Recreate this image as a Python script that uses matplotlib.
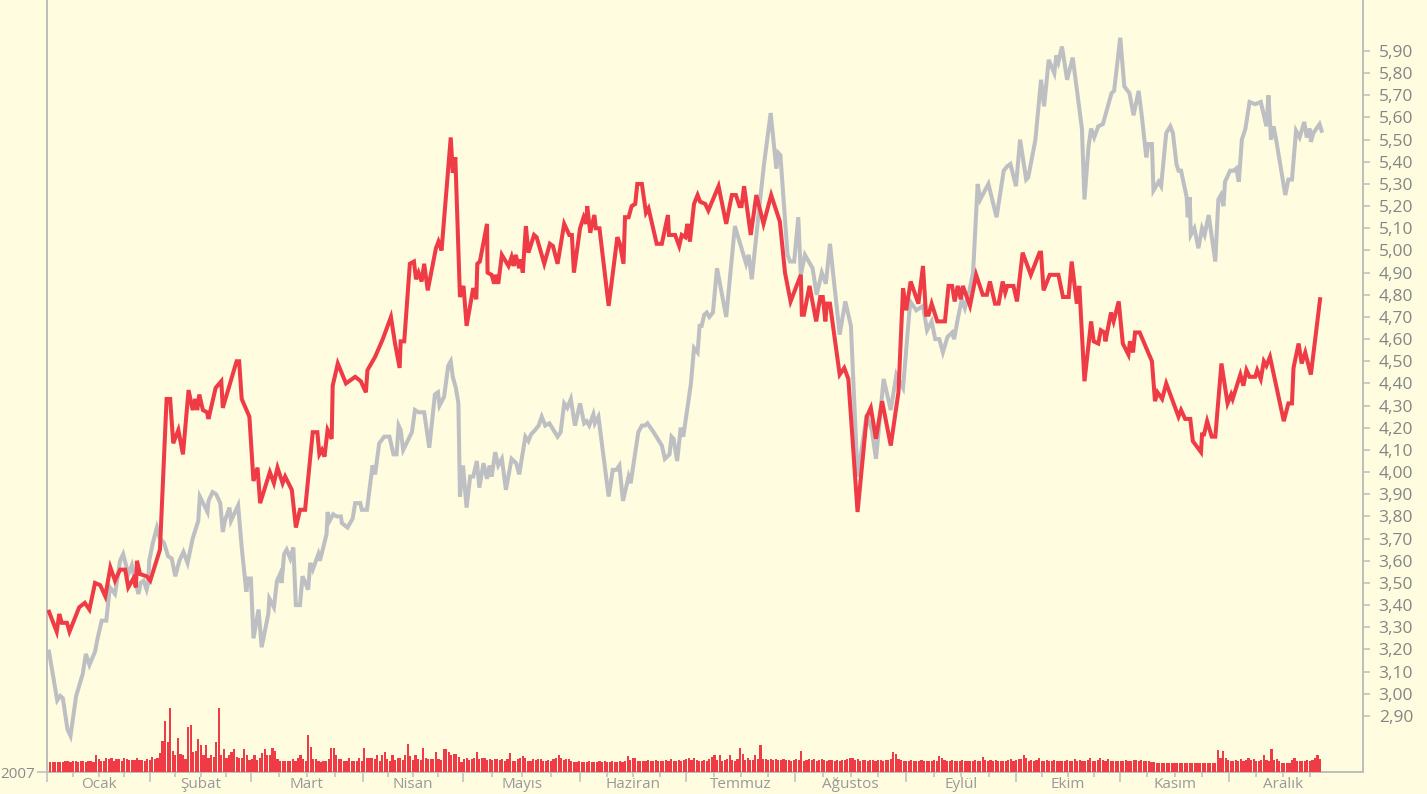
import numpy as np
import matplotlib.pyplot as plt
from matplotlib import transforms

# ---- data (x = trading day of 2007, y = price) ----
red_day = [0, 1.5, 2, 2.5, 3.5, 4, 5.9, 7, 7.9, 9, 10, 11, 12, 12.9, 13.9, 14.9, 15.5, 16.5, 17, 17.2,
           17.8, 19.1, 19.8, 21.7, 23, 23.7, 24.3, 25.3, 26.2, 27.3, 28.1, 28.6, 29, 29.4, 30.1, 30.9,
           31.2, 31.8, 32.6, 33.7, 34, 36.7, 37.2, 37.7, 39.2, 40, 40.8, 41.3, 43.2, 44, 44.7, 45.7,
           46.2, 47.5, 48.3, 49.1, 50.1, 51.6, 52.5, 52.9, 53.4, 53.9, 54.5, 55.3, 55.5, 56.5, 58.1,
           59.9, 61, 62, 62.3, 63.8, 65.3, 66.9, 67.7, 68.6, 68.8, 69.5, 70.6, 71.4, 71.8, 72.3, 72.9,
           73.4, 74.1, 75.7, 76.2, 76.8, 78.6, 79, 79.5, 80.4, 81.1, 81.7, 83, 83.6, 83.8, 84.3, 85.7,
           85.8, 86.6, 87.1, 87.4, 87.9, 88.6, 89.9, 90.5, 90.9, 91.3, 92, 92.3, 92.7, 93.3, 93.8, 94.9,
           95.4, 96.9, 98, 98.6, 99.5, 100.8, 101.8, 102.3, 102.7, 103.9, 104.6, 105.1, 105.3, 105.9,
           106.7, 107, 107.7, 109.5, 111.2, 111.7, 112.4, 112.7, 113.4, 114, 114.7, 115.1, 116, 116.8,
           117.3, 118.9, 119.9, 121.1, 121.3, 122.5, 123.3, 123.8, 124.5, 124.9, 125.4, 126.2, 126.9,
           127.4, 128.4, 129, 131, 132.5, 133.6, 134.4, 135.1, 135.5, 136, 137.3, 138.4, 139.8, 141.3,
           143, 144, 145.1, 147.1, 147.3, 147.7, 148.8, 150.1, 150.9, 151.4, 151.9, 152.2, 152.8, 154.7,
           155.6, 156.4, 158.2, 160, 160.8, 161.8, 163, 164.7, 166.2, 167.1, 167.7, 168.6, 170.1, 171,
           171.6, 172.1, 172.7, 173.8, 175.3, 176, 176.7, 177.2, 177.8, 178.4, 178.8, 180.2, 181.4,
           182.7, 183.5, 184.1, 185.1, 185.8, 186.6, 187.1, 187.5, 188.7, 189.4, 190.5, 192.1, 193.8,
           194.1, 194.6, 195.8, 197.5, 198.4, 199.5, 200.1, 201.1, 201.6, 202.6, 203.9, 204.4, 205.3,
           205.8, 206.5, 206.7, 207.8, 208.3, 209.3, 210.1, 211.2, 211.5, 212.1, 212.5, 213.4, 215.8,
           216.4, 216.9, 217.8, 218.6, 221, 221.5, 222.3, 223.3, 223.8, 225.4, 225.6, 226, 226.6,
           227.5, 228.2, 229.4, 230.6, 231.3, 231.6, 233.1, 233.7, 234.3, 234.9, 236, 236.4, 237.1,
           237.7, 238.2, 238.9, 241.6, 242.5, 243.2, 243.5, 244.5, 245.1, 245.8, 246.9, 248.7]
red_val = [3.37, 3.28, 3.36, 3.32, 3.32, 3.28, 3.39, 3.41, 3.38, 3.50, 3.49, 3.44, 3.57, 3.51, 3.56, 3.56, 3.48, 3.52, 3.48, 3.60,
           3.54, 3.53, 3.51, 3.65, 4.33, 4.33, 4.13, 4.19, 4.08, 4.37, 4.28, 4.33, 4.28, 4.35, 4.28, 4.27,
           4.24, 4.30, 4.38, 4.41, 4.29, 4.50, 4.50, 4.33, 4.25, 3.96, 4.02, 3.86, 4.00, 3.95, 4.02, 3.95,
           3.98, 3.92, 3.75, 3.83, 3.83, 4.18, 4.18, 4.08, 4.10, 4.07, 4.19, 4.15, 4.39, 4.49, 4.40,
           4.43, 4.41, 4.36, 4.46, 4.52, 4.60, 4.70, 4.58, 4.47, 4.59, 4.59, 4.94, 4.95, 4.87, 4.90, 4.86,
           4.94, 4.82, 5.01, 5.04, 5.00, 5.51, 5.35, 5.42, 4.79, 4.84, 4.66, 4.83, 4.78, 4.94, 4.95, 5.12,
           4.90, 4.89, 4.85, 4.89, 4.85, 4.98, 4.93, 4.97, 4.93, 4.98, 4.92, 4.96, 4.90, 5.11, 4.99, 5.07,
           5.06, 4.94, 5.03, 5.02, 4.94, 5.12, 5.07, 5.07, 4.90, 5.10, 5.15, 5.12, 5.20, 5.08,
           5.16, 5.10, 5.10, 4.75, 5.06, 5.03, 4.94, 5.15, 5.15, 5.20, 5.21, 5.30, 5.30, 5.17,
           5.19, 5.03, 5.03, 5.16, 5.07, 5.07, 5.02, 5.07, 5.06, 5.12, 5.04, 5.21, 5.25,
           5.22, 5.21, 5.18, 5.29, 5.12, 5.25, 5.25, 5.20, 5.20, 5.29, 5.07, 5.25, 5.12, 5.25,
           5.13, 4.90, 4.77, 4.89, 4.71, 4.71, 4.84, 4.68, 4.79, 4.79, 4.68, 4.76, 4.76, 4.44,
           4.47, 4.42, 3.82, 4.25, 4.29, 4.15, 4.32, 4.12, 4.36, 4.83, 4.73, 4.86, 4.76, 4.93,
           4.71, 4.71, 4.76, 4.68, 4.68, 4.84, 4.84, 4.77, 4.84, 4.78, 4.84, 4.75, 4.89,
           4.80, 4.80, 4.86, 4.76, 4.76, 4.86, 4.81, 4.84, 4.84, 4.77, 4.99, 4.89, 4.99,
           4.99, 4.82, 4.89, 4.89, 4.79, 4.79, 4.95, 4.76, 4.84, 4.41, 4.68, 4.59, 4.58,
           4.64, 4.63, 4.59, 4.72, 4.68, 4.77, 4.58, 4.53, 4.59, 4.54, 4.63, 4.63, 4.50,
           4.32, 4.36, 4.33, 4.40, 4.25, 4.28, 4.24, 4.24, 4.14, 4.09, 4.17, 4.17, 4.23,
           4.16, 4.16, 4.49, 4.31, 4.35, 4.33, 4.44, 4.39, 4.46, 4.43, 4.43, 4.46, 4.42,
           4.50, 4.48, 4.52, 4.23, 4.31, 4.31, 4.47, 4.58, 4.49, 4.54, 4.44, 4.78]

gray_day = [0, 0.5, 1.6, 2.2, 2.7, 3.6, 4.2, 5.3, 6.6, 7.2, 7.9, 9, 9.5, 10.3, 11.2, 11.9, 12.9, 13.9, 14.5,
            15.5, 16.2, 16.8, 17.5, 17.9, 18.5, 19.1, 19.4, 19.6, 20.3, 21.1, 21.7, 22.5, 23.3, 24, 24.7,
            25.5, 26.3, 27.1, 28.1, 29.2, 29.5, 31, 31.2, 32, 32.7, 33.5, 34, 34.4, 35.3, 35.6, 37, 37.7,
            38.6, 39, 39.5, 40, 41, 41.6, 42.9, 43.1, 44, 44.6, 45.2, 45.5, 46, 46.5, 47.2, 47.8, 48.3,
            49.1, 49.6, 50.7, 51.1, 51.6, 52.7, 53, 54.3, 54.5, 54.9, 55.6, 56.3, 57.1, 57.3, 58.4, 59.4,
            59.9, 60.9, 61.2, 62.2, 63.3, 63.8, 64.6, 65.6, 66.6, 67.4, 68, 68.4, 68.8, 69.3, 71, 71.6,
            72.3, 73.4, 74.4, 75.5, 76.1, 76.4, 77.3, 78.1, 78.6, 79, 79.6, 80.1, 80.4, 81, 81.7, 82.4, 83,
            83.7, 84.2, 85, 85.7, 86.2, 86.6, 87.3, 87.9, 88.6, 89.4, 90.5, 91.4, 92, 93.2, 93.8, 94.3,
            95.1, 95.8, 96.4, 97.1, 97.9, 98.7, 99.5, 100.1, 100.8, 101.4, 102.1, 102.9, 103.9, 104.7,
            105.2, 105.7, 106.5, 106.8, 107.5, 109.5, 110.3, 111, 111.6, 112.3, 113.4, 113.8, 115.3, 116,
            116.6, 117.1, 118.3, 119.9, 120.5, 121.4, 121.8, 122.2, 122.9, 123.6, 124.1, 125.6, 126.2,
            126.9, 127.3, 127.7, 128.2, 128.7, 129.2, 129.9, 130.7, 132.5, 134.2, 136.4, 136.9, 137.5,
            139, 139.9, 141.2, 142.3, 142.7, 143.1, 144.5, 145, 145.8, 146.6, 147.1, 147.9, 149.4, 150.2,
            151.2, 152, 152.8, 154.7, 155.8, 156.9, 158.2, 160, 161, 161.8, 163.3, 164.7, 165.8, 167.1,
            168.5, 169.7, 171, 171.8, 172.7, 173.4, 174.2, 174.9, 175.8, 176.7, 177.1, 177.8, 178.6,
            179.2, 180.1, 180.8, 181.7, 182.2, 183.8, 185.4, 186.8, 187.5, 188.1, 189.2, 190, 191.2,
            191.6, 193, 194.1, 194.7, 195.6, 196.7, 197.1, 197.5, 198.2, 199.2, 200.3, 202.1, 202.6,
            203.4, 203.9, 204.5, 205.3, 206.2, 207.9, 208.4, 209.6, 210.4, 211.4, 212.2, 213.2, 213.8,
            214.7, 215.1, 215.8, 216.1, 217.1, 217.6, 218.6, 219.4, 219.9, 220.6, 221, 221.5, 222.6,
            222.8, 223.2, 223.4, 224.1, 224.9, 225.6, 226.1, 226.9, 228.2, 228.8, 229.3, 229.8, 230.1,
            231.1, 231.8, 232.3, 232.8, 233.4, 234.1, 234.9, 236, 237.1, 238.2, 238.6, 239.1, 239.6,
            240.1, 241.9, 242.5, 243.2, 244, 244.7, 245.6, 246.1, 246.7, 246.9, 247.4, 248.6, 249]
gray_val = [3.19, 3.12, 2.97, 2.99, 2.98, 2.84, 2.81, 2.99, 3.09, 3.18, 3.13, 3.19, 3.25, 3.33, 3.33, 3.48, 3.45, 3.60, 3.63,
            3.54, 3.58, 3.51, 3.45, 3.50, 3.51, 3.47, 3.50, 3.60, 3.68, 3.75, 3.70, 3.68, 3.62, 3.61, 3.53,
            3.60, 3.64, 3.59, 3.70, 3.78, 3.89, 3.82, 3.87, 3.91, 3.90, 3.86, 3.73, 3.78, 3.84, 3.78, 3.85, 3.66,
            3.46, 3.52, 3.52, 3.25, 3.38, 3.21, 3.36, 3.43, 3.39, 3.51, 3.54, 3.50, 3.63, 3.65, 3.61, 3.66, 3.40,
            3.40, 3.53, 3.47, 3.59, 3.56, 3.63, 3.60, 3.72, 3.82, 3.78, 3.81, 3.80, 3.80, 3.77, 3.75, 3.79,
            3.86, 3.86, 3.83, 3.83, 4.03, 3.99, 4.13, 4.16, 4.16, 4.08, 4.08, 4.21, 4.19, 4.10, 4.18, 4.28,
            4.27, 4.27, 4.11, 4.35, 4.36, 4.30, 4.34, 4.48, 4.50, 4.43, 4.38, 4.31, 3.89, 4.03, 3.84, 3.98, 3.98,
            4.05, 3.93, 4.04, 3.97, 4.03, 3.98, 4.09, 4.03, 4.06, 3.92, 4.06, 4.04, 3.99, 4.16, 4.14, 4.17,
            4.19, 4.21, 4.25, 4.21, 4.22, 4.19, 4.16, 4.18, 4.31, 4.29, 4.33, 4.21, 4.31, 4.22,
            4.23, 4.21, 4.26, 4.22, 4.25, 3.89, 4.01, 4.01, 4.03, 3.87, 3.98, 3.95, 4.18, 4.21,
            4.21, 4.22, 4.18, 4.12, 4.06, 4.08, 4.16, 4.15, 4.05, 4.20, 4.16, 4.40, 4.56,
            4.54, 4.66, 4.66, 4.71, 4.72, 4.70, 4.72, 4.92, 4.70, 5.11, 4.94, 4.98, 4.87,
            5.20, 5.39, 5.62, 5.37, 5.44, 5.43, 4.98, 4.95, 4.95, 5.15, 4.89, 4.98, 4.92, 4.80,
            4.90, 4.85, 5.03, 4.62, 4.77, 4.66, 3.98, 4.26, 4.19, 4.06, 4.42, 4.28, 4.44, 4.38,
            4.77, 4.73, 4.75, 4.64, 4.68, 4.60, 4.60, 4.54, 4.61, 4.63, 4.60, 4.69, 4.78,
            4.74, 4.82, 4.90, 5.30, 5.23, 5.30, 5.15, 5.36, 5.38, 5.39, 5.29, 5.50, 5.32,
            5.33, 5.50, 5.77, 5.65, 5.86, 5.80, 5.88, 5.85, 5.92, 5.77, 5.87, 5.55, 5.23,
            5.47, 5.55, 5.51, 5.56, 5.57, 5.71, 5.72, 5.96, 5.74, 5.71, 5.61, 5.72, 5.61,
            5.42, 5.48, 5.48, 5.27, 5.31, 5.29, 5.53, 5.56, 5.53, 5.39, 5.36, 5.36, 5.24,
            5.15, 5.24, 5.07, 5.10, 5.01, 5.10, 5.07, 5.16, 4.95, 5.23, 5.25, 5.20, 5.31,
            5.36, 5.36, 5.37, 5.31, 5.50, 5.55, 5.67, 5.66, 5.67, 5.56, 5.70, 5.50, 5.56,
            5.50, 5.25, 5.32, 5.32, 5.54, 5.51, 5.58, 5.51, 5.55, 5.49, 5.53, 5.57, 5.54]

# two sessions per day -> two volume bars per trading day
volume = [10, 10, 10, 10, 10, 10, 11, 11, 10, 11, 11, 10, 11, 11, 10, 11, 11, 10,
          17, 13, 11, 11, 14, 13, 14, 11, 13, 13, 11, 14, 13, 12, 12, 12, 14, 12, 12, 11, 13, 12,
          15, 13, 14, 19, 31, 51, 30, 64, 21, 17, 34, 18, 17, 13, 45, 47, 20, 21, 33, 27,
          17, 27, 14, 17, 15, 30, 64, 17, 23, 14, 17, 20, 23, 15, 14, 14, 23, 17, 12, 13,
          17, 12, 14, 19, 23, 17, 17, 24, 21, 13, 11, 11, 11, 11, 11, 13, 11, 14, 17, 13,
          11, 37, 25, 13, 13, 11, 10, 11, 11, 13, 24, 24, 17, 13, 13, 11, 11, 14, 11, 11,
          11, 14, 11, 24, 14, 14, 14, 13, 17, 11, 17, 20, 13, 11, 17, 12, 14,
          14, 12, 17, 28, 16, 12, 17, 13, 12, 24, 14, 13, 13, 13, 20, 13, 12, 23, 23, 20, 17, 18, 18, 15,
          10, 13, 14, 12, 13, 14, 20, 13, 14, 14, 12, 13, 12, 13, 13, 12, 13, 11, 13, 19, 11, 11,
          13, 14, 16, 14, 11, 11, 13, 12, 13, 13, 11, 11, 12, 11, 13, 14, 17, 14, 12, 13, 13, 11,
          10, 10, 11, 10, 10, 10, 11, 10, 10, 10, 11, 10, 11, 10, 10, 11, 10, 10, 11, 10, 11,
          16, 12, 14, 14, 11, 11, 11, 11, 12, 11, 11, 12, 11, 11, 11, 12, 11, 13, 11, 11, 12, 11, 12, 13, 14,
          12, 14, 12, 11, 11, 12, 11, 13, 15, 17, 12, 17, 11, 12, 13, 17, 12, 11, 13, 24, 18, 12, 14, 12,
          12, 17, 13, 27, 13, 13,
          12, 13, 12, 13, 12, 12, 13, 12, 12, 11, 12, 13, 12, 21, 11, 12, 13, 12, 13, 11,
          12, 13, 12, 11, 12, 12, 11, 12, 11, 12, 12, 13, 14, 14, 12, 13, 11, 12, 12, 11,
          12, 12, 11, 12, 12, 11, 12, 12, 13, 20, 18, 13, 12, 11, 11, 11, 12, 11, 11, 11, 12, 11, 11, 11,
          11, 12, 11,
          16, 14, 12, 11, 11, 12, 11, 11, 11, 12, 11, 11, 11, 11, 12, 11, 11, 15, 12, 11, 12, 11, 12, 11, 11,
          11, 11, 12, 13, 11, 12, 13, 13, 17, 14, 11, 12, 11, 12, 14, 11, 11, 12, 11, 11, 12, 11, 11, 11,
          11, 12, 11, 11, 13, 11, 12, 11, 11,
          12, 14, 11, 11, 12, 14, 12, 11, 13, 11, 11, 11, 11, 11, 11, 12, 11, 11, 12, 12, 11, 12, 11, 11, 11,
          10, 10, 9, 9, 9, 9, 9, 9, 9, 9, 9, 9, 9, 9, 9, 9, 9, 9, 9, 9, 9, 9, 9, 9, 9, 9,
          22, 14, 21, 14, 12, 11, 11, 12, 11, 13, 11, 12, 14, 12, 13, 11, 11, 12, 17, 12,
          11, 23, 12, 13, 11, 9, 9, 9, 9, 12, 14, 11, 11, 11, 11, 12, 11, 12, 14, 17, 13]

months = ["Ocak", "Şubat", "Mart", "Nisan", "Mayıs", "Haziran", "Temmuz",
          "Ağustos", "Eylül", "Ekim", "Kasım", "Aralık"]
month_start = [-0.4, 19.8, 39.5, 61.4, 81.0, 103.9, 124.7, 146.0, 167.7, 189.2, 209.6, 230.9]
month_end = month_start[1:] + [252.0]

# ---- style ----
BG = "#FFFCE0"
RED = "#EE3B45"
GRAY = "#BEBFC3"
AXC = "#BDBDBD"
plt.rcParams['font.family'] = ['Open Sans', 'DejaVu Sans']

fig = plt.figure(figsize=(14.27, 7.94), dpi=100, facecolor=BG)
ax = fig.add_axes([47 / 1427, 22 / 794, 1316 / 1427, 772 / 794], facecolor=BG)

# volume bars on a twin axis (twinx must come first: it resets tick sides)
vol = ax.twinx()
vol.set_ylim(0, 772)
vx = np.arange(len(volume)) * 0.5
vol.bar(vx, volume, width=0.42, color=RED, linewidth=0, align='edge', zorder=2)
for s in vol.spines.values():
    s.set_visible(False)
vol.yaxis.tick_left()
vol.yaxis.set_label_position('left')
vol.set_yticks([0])
vol.set_yticklabels(["2007"])
vol.tick_params(axis='y', length=7.2, width=1.1, color=AXC, labelcolor='#8a8a8a',
                labelsize=11, pad=1.5)

ax.plot(gray_day, gray_val, color=GRAY, lw=2.9, solid_joinstyle='miter', zorder=3)
ax.plot(red_day, red_val, color=RED, lw=2.9, solid_joinstyle='miter', zorder=4)

ax.set_xlim(-0.4, 257.1)
ax.set_ylim(2.647, 6.13)

ax.spines['top'].set_visible(False)
for s in ['left', 'right', 'bottom']:
    ax.spines[s].set_color(AXC)
    ax.spines[s].set_linewidth(1.4)

# right price axis
ax.yaxis.tick_right()
ax.yaxis.set_label_position('right')
yt = np.round(np.arange(2.9, 5.95, 0.1), 2)
ax.set_yticks(yt)
ax.set_yticklabels([f"{v:.2f}".replace('.', ',') for v in yt])
ax.tick_params(axis='y', which='major', left=False, right=True, labelleft=False,
               labelright=True, length=5, width=1.1, color=AXC,
               labelcolor='#858585', labelsize=12.5, pad=31)
for lbl in ax.get_yticklabels():
    lbl.set_horizontalalignment('right')

# bottom month axis
minor = []
for a, b in zip(month_start, month_end):
    step = (b - a) / 4
    minor += [a + step, a + 2 * step, a + 3 * step]
ax.set_xticks(month_start)
ax.set_xticks(minor, minor=True)
ax.set_xticklabels([])
ax.tick_params(axis='x', which='major', length=7.2, width=1.1, color=AXC)
ax.tick_params(axis='x', which='minor', length=3.6, width=1.1, color=AXC)

lab_tr = transforms.offset_copy(ax.get_xaxis_transform(), fig=fig, y=-12, units='dots')
for name, a, b in zip(months, month_start, month_end):
    ax.text((a + b) / 2, 0, name, transform=lab_tr, ha='center', va='center',
            fontsize=11, color='#999999')

fig.savefig("out.png", dpi=100, facecolor=BG)
